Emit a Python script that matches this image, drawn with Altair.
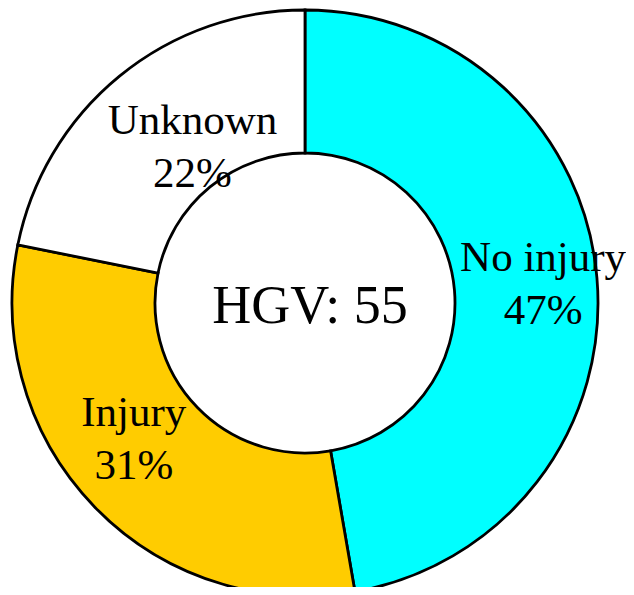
import altair as alt
import pandas as pd
import math

categories = ["No injury", "Injury", "Unknown"]
counts = [26, 17, 12]
colors = ["#00FFFF", "#FFCC00", "#FFFFFF"]
center_label = "HGV: 55"

total = sum(counts)
rows = []
cum = 0
for i, (c, v) in enumerate(zip(categories, counts)):
    mid = 2 * math.pi * (cum + v / 2) / total
    cum += v
    rows.append({"cat": c, "v": v, "idx": i, "mid": mid,
                 "label": f"{c}\n{round(100 * v / total)}%"})
df = pd.DataFrame(rows)

CX, CY = 297, 295
FONT = "Liberation Serif"

base = alt.Chart(df)

arcs = base.mark_arc(innerRadius=150, outerRadius=293, stroke="black", strokeWidth=2.8).encode(
    theta=alt.Theta("v:Q", stack=True),
    order=alt.Order("idx:Q"),
    color=alt.Color("cat:N", scale=alt.Scale(domain=categories, range=colors), legend=None),
    x=alt.value(CX),
    y=alt.value(CY),
)

def label_layer(cat, r, dx, dy):
    return base.transform_filter(alt.datum.cat == cat).mark_text(
        font=FONT, fontSize=43, lineHeight=53, lineBreak="\n",
        align="center", baseline="middle", radius=r, dx=dx, dy=dy, color="black"
    ).encode(
        theta=alt.Theta("mid:Q", scale=None),
        text="label:N",
        x=alt.value(CX),
        y=alt.value(CY),
    )

labels = [
    label_layer("No injury", 245, -6, -24),
    label_layer("Injury", 215, -17, -40),
    label_layer("Unknown", 192, 9, -33),
]

center = alt.Chart(pd.DataFrame({"t": [center_label]})).mark_text(
    font=FONT, fontSize=54, align="center", baseline="alphabetic", color="black"
).encode(text="t:N", x=alt.value(302), y=alt.value(315))

chart = alt.layer(arcs, *labels, center).properties(
    width=618, height=579, padding=0, autosize=alt.AutoSizeParams(type="none")
).configure_view(stroke=None)

chart.save("out.html", embed_options={"renderer": "svg", "actions": False})
